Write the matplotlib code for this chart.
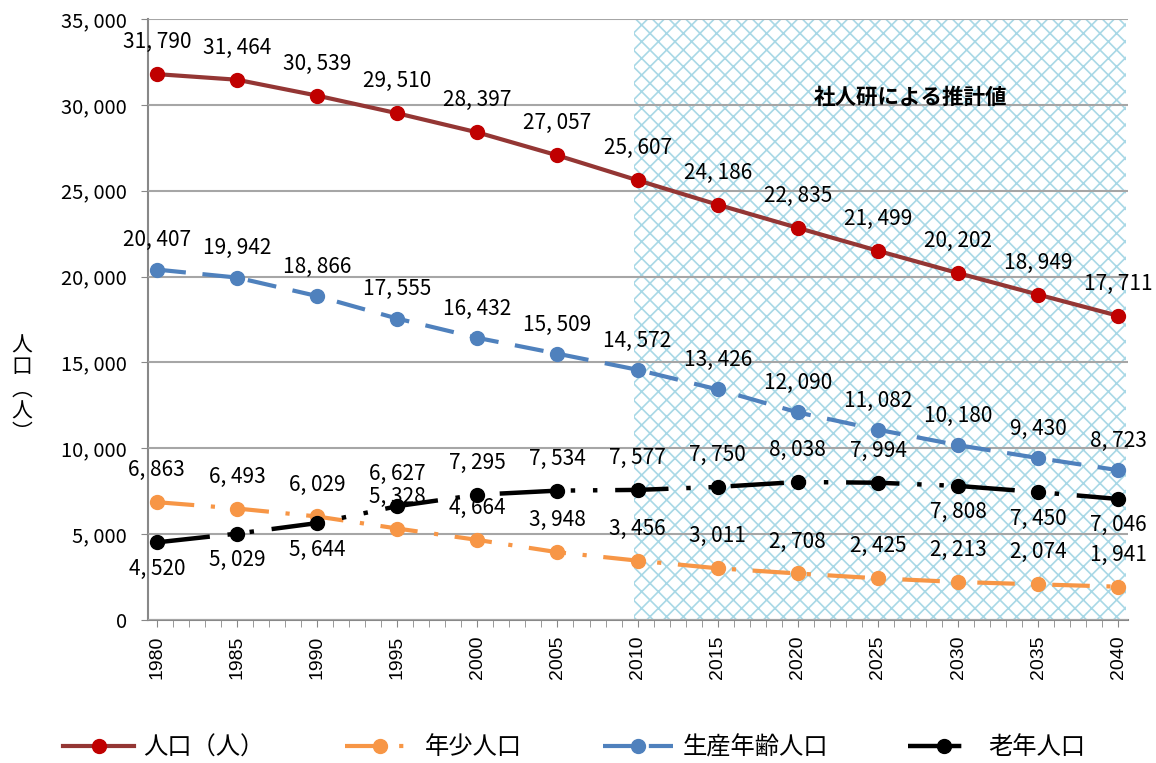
import numpy as np
import matplotlib.pyplot as plt
from matplotlib.ticker import MultipleLocator, FuncFormatter

plt.rcParams['font.family'] = ['Noto Sans CJK JP', 'DejaVu Sans']
plt.rcParams['hatch.linewidth'] = 1.2

years = [1980, 1985, 1990, 1995, 2000, 2005, 2010, 2015, 2020, 2025, 2030, 2035, 2040]
total = [31790, 31464, 30539, 29510, 28397, 27057, 25607, 24186, 22835, 21499, 20202, 18949, 17711]
young = [6863, 6493, 6029, 5328, 4664, 3948, 3456, 3011, 2708, 2425, 2213, 2074, 1941]
working = [20407, 19942, 18866, 17555, 16432, 15509, 14572, 13426, 12090, 11082, 10180, 9430, 8723]
elderly = [4520, 5029, 5644, 6627, 7295, 7534, 7577, 7750, 8038, 7994, 7808, 7450, 7046]
# elderly labels that sit below the point
elderly_below = [1980, 1985, 1990, 2030, 2035, 2040]


def fmt(v):
    return f"{v:,}".replace(",", ", ")


fig = plt.figure(figsize=(11.56, 7.63), dpi=100)
ax = fig.add_axes([148 / 1156, 1 - 620 / 763, 980 / 1156, 601 / 763])

# projection period shading
ax.axvspan(2009.75, 2040.5, facecolor='white', edgecolor='#A8D8E6',
           hatch='xx', linewidth=0, zorder=0)

ax.plot(years, total, color='#943634', lw=3, marker='o', ms=10,
        mfc='#C00000', mec='#C00000', label='人口（人）', zorder=5)
ax.plot(years, young, color='#F79646', lw=3, marker='o', ms=10,
        linestyle=(0, (9, 4, 1, 4)), label='年少人口', zorder=4)
ax.plot(years, working, color='#4F81BD', lw=3, marker='o', ms=10,
        linestyle=(0, (7, 4)), label='生産年齢人口', zorder=4)
ax.plot(years, elderly, color='black', lw=3.2, marker='o', ms=10,
        linestyle=(0, (12, 4, 1, 4, 1, 4)), label='老年人口', zorder=4)

lab = dict(ha='center', va='center', fontsize=15, textcoords='offset points')
for x, v in zip(years, total):
    ax.annotate(fmt(v), (x, v), xytext=(0, 23), **lab)
for x, v in zip(years, working):
    ax.annotate(fmt(v), (x, v), xytext=(0, 21), **lab)
for x, v in zip(years, young):
    ax.annotate(fmt(v), (x, v), xytext=(0, 23), **lab)
for x, v in zip(years, elderly):
    dy = -19 if x in elderly_below else 23
    ax.annotate(fmt(v), (x, v), xytext=(0, dy), **lab)

ax.text(2027, 30450, '社人研による推計値', ha='center', va='center',
        fontsize=15.5, fontweight='bold')

ax.set_xlim(1979.45, 2040.6)
ax.set_ylim(0, 35000)
ax.xaxis.set_major_locator(MultipleLocator(5))
ax.xaxis.set_minor_locator(MultipleLocator(1))
ax.yaxis.set_major_locator(MultipleLocator(5000))
ax.yaxis.set_major_formatter(FuncFormatter(lambda v, p: fmt(int(v))))
ax.tick_params(axis='x', which='both', direction='out', length=5,
               color='#888888', labelrotation=90, labelsize=14, pad=6)
ax.tick_params(axis='y', direction='out', length=5, color='#888888',
               labelsize=14.5, pad=10)
for t in ax.get_xticklabels():
    t.set_family('Liberation Sans')

ax.grid(axis='y', color='#A6A6A6', lw=1.5, zorder=1)
ax.set_axisbelow(False)
for s in ['top', 'right']:
    ax.spines[s].set_visible(False)
ax.spines['left'].set_color('#888888')
ax.spines['bottom'].set_color('#888888')
ax.spines['left'].set_linewidth(1.5)
ax.spines['bottom'].set_linewidth(1.5)

fig.text(0.019, 0.49, '人\n口\n︵\n人\n︶', ha='center', va='center',
         fontsize=15, linespacing=1.0)

fig.legend(loc='lower center', bbox_to_anchor=(0.497, -0.025), ncol=4,
           frameon=False, fontsize=17.5, handlelength=2.9, columnspacing=3.3,
           handletextpad=0.4)

fig.savefig('out.png', dpi=100)
